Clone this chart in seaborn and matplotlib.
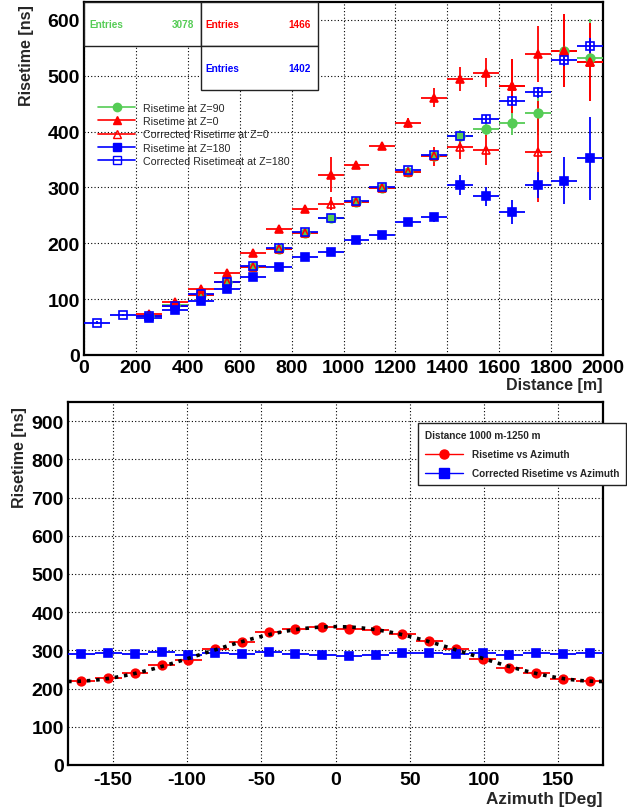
import numpy as np
import matplotlib
matplotlib.use("Agg")
import matplotlib.pyplot as plt
from matplotlib.lines import Line2D
from matplotlib.patches import Rectangle
import seaborn as sns

# ---------------- data: risetime vs distance ----------------
dist_all = [50, 150, 250, 350, 450, 550, 650, 750, 850, 950,
            1050, 1150, 1250, 1350, 1450, 1550, 1650, 1750, 1850, 1950]
dist = dist_all[2:]  # bins from 200 m onwards

rt_z90 = [70, 89, 108, 130, 157, 190, 218, 245, 274, 299, 328, 356, 392,
          404, 415, 434, 544, 532]
rt_z90_err = [2, 2, 2, 3, 3, 3, 3, 4, 4, 4, 5, 6, 10, 12, 21, 40, 50, 69]

rt_z0 = [73, 95, 119, 146, 182, 226, 261, 323, 340, 375, 415, 461, 494,
         505, 482, 539, 545, 524]
rt_z0_err = [2, 3, 3, 3, 4, 4, 5, 32, 5, 6, 9, 17, 22, 26, 48, 50, 65, 70]

rt_z0_corr = [70, 88, 108, 130, 157, 190, 218, 271, 274, 299, 328, 356,
              373, 367, 482, 364, 545, 524]
rt_z0_corr_err = [2, 3, 3, 3, 4, 4, 5, 12, 5, 6, 9, 17, 22, 26, 48, 90, 65, 70]

rt_z180 = [66, 80, 96, 119, 139, 157, 175, 184, 205, 214, 238, 247, 304,
           284, 256, 304, 312, 352]
rt_z180_err = [2, 2, 2, 3, 3, 3, 3, 4, 4, 5, 6, 8, 18, 17, 21, 23, 42, 75]

rt_z180_corr = [58, 71, 70, 88, 109, 130, 159, 192, 220, 245, 275, 301, 331,
                358, 392, 422, 455, 470, 529, 554]
rt_z180_corr_err = [2, 2, 2, 2, 3, 3, 3, 3, 4, 4, 4, 5, 5, 6, 6, 7, 8, 10, 12, 13]

entries_z90, entries_z0, entries_z180 = 3078, 1466, 1402

# ---------------- data: risetime vs azimuth ----------------
azimuth = [-171, -153, -135, -117, -99, -81, -63, -45, -27, -9,
           9, 27, 45, 63, 81, 99, 117, 135, 153, 171]
rt_az = [219, 227, 240, 261, 275, 303, 323, 347, 355, 360,
         356, 352, 343, 325, 303, 277, 255, 240, 225, 220]
rt_az_corr = [290, 293, 291, 295, 288, 292, 291, 296, 290, 289,
              286, 289, 292, 293, 291, 292, 288, 293, 290, 293]

GREEN = "#55cc55"
RED = "#ff0000"
BLUE = "#0000ff"

sns.set_theme(style="white")
plt.rcParams["font.family"] = ["Liberation Sans", "DejaVu Sans"]
plt.rcParams["axes.linewidth"] = 1.6
plt.rcParams["axes.unicode_minus"] = False

W, H = 627, 812
fig = plt.figure(figsize=(W / 100, H / 100), dpi=100)
ax1 = fig.add_axes([84 / W, 1 - 356 / H, 519 / W, 353 / H])
ax2 = fig.add_axes([68 / W, 1 - 766 / H, 535 / W, 363 / H])


def style_axes(ax):
    for s in ax.spines.values():
        s.set_color("black")
        s.set_linewidth(1.6)
    ax.grid(True, color="black", linestyle=(0, (1, 2)), linewidth=0.8)
    ax.set_axisbelow(True)
    ax.tick_params(axis="both", direction="in", colors="#333333",
                   labelcolor="black", labelsize=14, width=1.2)
    for lab in ax.get_xticklabels() + ax.get_yticklabels():
        lab.set_fontweight("bold")


def draw_series(ax, x, y, yerr, xerr, color, marker, filled, ms=6.2):
    ax.errorbar(x, y, xerr=xerr, yerr=yerr, fmt=marker, color=color,
                mfc=color if filled else "none", mec=color, mew=1.2,
                ms=ms, elinewidth=1.3, capsize=0, linestyle="none", zorder=3)


# ---------------- top panel ----------------
draw_series(ax1, dist, rt_z90, rt_z90_err, 50, GREEN, "o", True)
draw_series(ax1, dist, rt_z0, rt_z0_err, 50, RED, "^", True)
draw_series(ax1, dist, rt_z0_corr, rt_z0_corr_err, 50, RED, "^", False)
draw_series(ax1, dist, rt_z180, rt_z180_err, 50, BLUE, "s", True)
draw_series(ax1, dist_all, rt_z180_corr, rt_z180_corr_err, 50, BLUE, "s", False)

ax1.set_xlim(0, 2000)
ax1.set_ylim(0, 632)
ax1.set_xticks(np.arange(0, 2001, 200))
ax1.set_yticks(np.arange(0, 601, 100))
style_axes(ax1)
ax1.tick_params(axis="y", length=12, pad=3)
ax1.tick_params(axis="x", length=9, pad=3)

top_handles = [
    Line2D([], [], color=GREEN, marker="o", mfc=GREEN, ms=6, lw=1.2),
    Line2D([], [], color=RED, marker="^", mfc=RED, ms=6, lw=1.2),
    Line2D([], [], color=RED, marker="^", mfc="none", ms=6, lw=1.2),
    Line2D([], [], color=BLUE, marker="s", mfc=BLUE, ms=6, lw=1.2),
    Line2D([], [], color=BLUE, marker="s", mfc="none", ms=6, lw=1.2),
]
top_labels = ["Risetime at Z=90", "Risetime at Z=0", "Corrected Risetime at Z=0",
              "Risetime at Z=180", "Corrected Risetimeat at Z=180"]
ax1.legend(top_handles, top_labels, loc="upper left",
           bbox_to_anchor=(98 / W, 1 - 104 / H), bbox_transform=fig.transFigure,
           frameon=False, fontsize=7.7, handlelength=3.5, handletextpad=0.75,
           labelspacing=0.3, borderpad=0, borderaxespad=0)

# statistics boxes
def stat_box(x0, y0, x1, y1, color, n):
    fig.add_artist(Rectangle((x0 / W, 1 - y1 / H), (x1 - x0) / W, (y1 - y0) / H,
                             transform=fig.transFigure, facecolor="white",
                             edgecolor="#222222", linewidth=1.0, zorder=5))
    yc = 1 - (y0 + y1) / 2 / H
    fig.text((x0 + 5) / W, yc, "Entries", color=color, fontsize=7.2,
             fontweight="bold", ha="left", va="center", zorder=6)
    fig.text((x1 - 7) / W, yc, f"{n}", color=color, fontsize=7.2,
             fontweight="bold", ha="right", va="center", zorder=6)


stat_box(84, 3, 200.7, 46.7, GREEN, entries_z90)
stat_box(200.7, 3, 317.7, 46.7, RED, entries_z0)
stat_box(200.7, 46.7, 317.7, 90.7, BLUE, entries_z180)

fig.text(27 / W, 1 - 5 / H, "Risetime [ns]", rotation=90, ha="center", va="top",
         fontsize=11.5, fontweight="bold")
fig.text(603 / W, 1 - 386 / H, "Distance [m]", ha="right", va="center",
         fontsize=11.5, fontweight="bold")

# ---------------- bottom panel ----------------
draw_series(ax2, azimuth, rt_az, None, 9, RED, "o", True, ms=6.2)
draw_series(ax2, azimuth, rt_az_corr, None, 9, BLUE, "s", True, ms=6.2)

# cosine fit to the uncorrected azimuth dependence
phi = np.radians(np.array(azimuth, dtype=float))
design = np.column_stack([np.ones_like(phi), np.cos(phi)])
coef, *_ = np.linalg.lstsq(design, np.array(rt_az, dtype=float), rcond=None)
phi_fit = np.linspace(-180, 180, 400)
fit_vals = coef[0] + coef[1] * np.cos(np.radians(phi_fit))
sns.lineplot(x=phi_fit, y=fit_vals, ax=ax2, color="black",
             linestyle=(0, (1, 1.6)), linewidth=2.6, zorder=4)

ax2.set_xlim(-180, 180)
ax2.set_ylim(0, 950)
ax2.set_xticks(np.arange(-150, 151, 50))
ax2.set_yticks(np.arange(0, 901, 100))
ax2.set_xlabel("")
ax2.set_ylabel("")
style_axes(ax2)
ax2.tick_params(axis="y", length=12, pad=3)
ax2.tick_params(axis="x", length=9, pad=4)

bot_handles = [
    Line2D([], [], color=RED, marker="o", mfc=RED, ms=6.5, lw=1.0),
    Line2D([], [], color=BLUE, marker="s", mfc=BLUE, ms=6.5, lw=1.0),
]
leg2 = ax2.legend(bot_handles, ["Risetime vs Azimuth", "Corrected Risetime vs Azimuth"],
                  title="Distance 1000 m-1250 m", alignment="left",
                  loc="upper left", bbox_to_anchor=(418.3 / W, 1 - 424.3 / H),
                  bbox_transform=fig.transFigure, prop={"weight": "bold", "size": 7.2},
                  title_fontproperties={"weight": "bold", "size": 7.2},
                  frameon=True, fancybox=False, framealpha=1, edgecolor="#222222",
                  handlelength=3.8, handletextpad=0.85, labelspacing=0.9,
                  borderpad=0.7, borderaxespad=0)
leg2.get_frame().set_linewidth(1.0)
leg2.set_zorder(10)

fig.text(20 / W, 1 - 407 / H, "Risetime [ns]", rotation=90, ha="center", va="top",
         fontsize=11.5, fontweight="bold")
fig.text(603 / W, 1 - 800 / H, "Azimuth [Deg]", ha="right", va="center",
         fontsize=12.3, fontweight="bold")

fig.savefig("out.png", dpi=100)
